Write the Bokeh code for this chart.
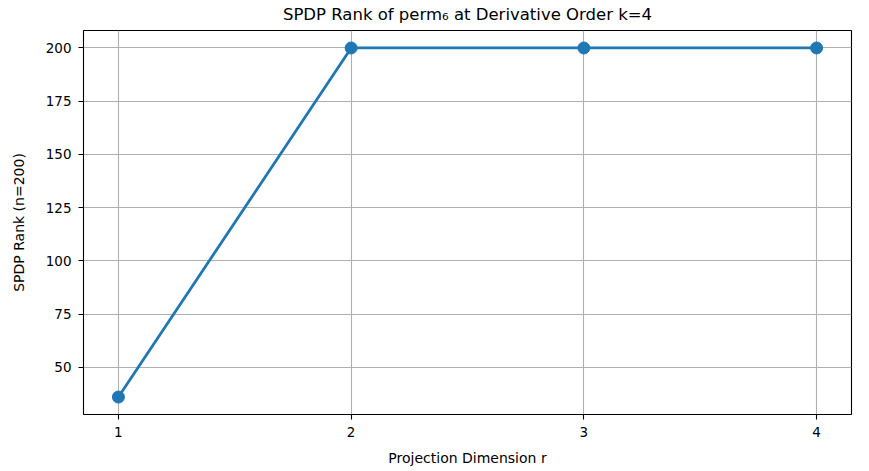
from bokeh.plotting import figure
from bokeh.embed import file_html
from bokeh.resources import INLINE
from bokeh.models import FixedTicker, Range1d

r_values = [1, 2, 3, 4]
rank_values = [36, 200, 200, 200]
y_ticks = [50, 75, 100, 125, 150, 175, 200]

FONT = "DejaVu Sans"

p = figure(width=853, height=470, output_backend="svg", toolbar_location=None,
           x_range=Range1d(0.85, 4.15), y_range=Range1d(27.8, 208.2),
           min_border_left=83, min_border_right=2, min_border_top=30, min_border_bottom=56)

p.title.text = "SPDP Rank of perm\u2086 at Derivative Order k=4"
p.title.text_font = FONT
p.title.text_font_size = "16.5px"
p.title.text_font_style = "normal"
p.title.align = "center"
p.title.text_color = "#000000"
p.title.standoff = 9
p.title.vertical_align = "top"

p.outline_line_color = "#000000"
p.outline_line_width = 1.1
p.background_fill_color = "white"
p.border_fill_color = "white"

for ax in (p.xaxis, p.yaxis):
    ax.axis_line_color = None
    ax.major_tick_line_color = "#000000"
    ax.major_tick_line_width = 1.1
    ax.major_tick_out = 5
    ax.major_tick_in = 0
    ax.minor_tick_line_color = None
    ax.major_label_text_font = FONT
    ax.major_label_text_font_size = "13.5px"
    ax.major_label_text_color = "#000000"
    ax.major_label_standoff = 7
    ax.axis_label_text_font = FONT
    ax.axis_label_text_font_size = "14px"
    ax.axis_label_text_font_style = "normal"
    ax.axis_label_text_color = "#000000"

p.xaxis.ticker = FixedTicker(ticks=r_values)
p.yaxis.ticker = FixedTicker(ticks=y_ticks)
p.xaxis.axis_label = "Projection Dimension r"
p.yaxis.axis_label = "SPDP Rank (n=200)"
p.xaxis.axis_label_standoff = 10
p.yaxis.axis_label_standoff = 16

p.xgrid.grid_line_color = "#b0b0b0"
p.ygrid.grid_line_color = "#b0b0b0"
p.xgrid.grid_line_width = 1.1
p.ygrid.grid_line_width = 1.1

p.line(r_values, rank_values, line_color="#1f77b4", line_width=2.8)
p.scatter(r_values, rank_values, size=12, fill_color="#1f77b4", line_color="#1f77b4")

open("out.html", "w").write(file_html(p, INLINE))
